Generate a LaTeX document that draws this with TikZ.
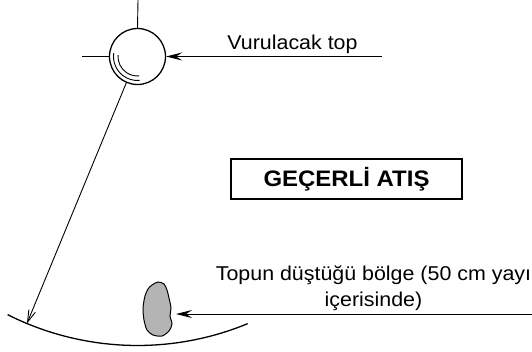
\documentclass[tikz,border=0pt]{standalone}
\usepackage{fontspec}
\usetikzlibrary{arrows.meta}
\newfontfamily\lblfont[FakeStretch=1.07]{Liberation Sans}
\definecolor{zoneGray}{HTML}{B4B4B4}
\tikzset{
  lbl/.style={font=\lblfont\fontsize{20}{26}\selectfont,inner sep=0pt},
  ptr/.style={line width=0.9pt,-{Stealth[length=16pt,width=8pt,inset=6pt]}},
  thinline/.style={line width=0.9pt}
}

\begin{document}
\begin{tikzpicture}[x=1pt,y=-1pt]
  \useasboundingbox (0,0) rectangle (532,351);
  \node[circle,draw,line width=1.3pt,minimum size=56pt,inner sep=0pt] (ball) at (137.5,56.5) {};
  \coordinate (ballTop) at (138,0);
  \coordinate (ballLeft) at (82,56.5);
  \draw[thinline] (ballTop) -- (ball.north);
  \draw[thinline] (ballLeft) -- (ball.west);
  \draw[thinline] ([shift={(172:24pt)}]ball.center) arc (172:275:24pt);
  \draw[thinline] ([shift={(176:19.5pt)}]ball.center) arc (176:275:19.5pt);

  \coordinate (ballTail) at (382,56.5);
  \draw[ptr] (ballTail) -- (ball.east);
  \node[lbl,anchor=base] (ballLbl) at (292.5,49) {Vurulacak top};

  \coordinate (hit) at ([shift={(247.5:289pt)}]ball.center);
  \draw[thinline,-{Straight Barb[length=12pt,width=7pt]}] (ball.247.5) -- (hit);
  \draw[line width=1.3pt] ([shift={(243.3:289pt)}]ball.center) arc (243.3:292.4:289pt);

  \node[draw,line width=1.3pt,minimum width=231pt,minimum height=40pt,
    font=\lblfont\bfseries\fontsize{22.4}{24}\selectfont] (valid) at (346.5,179) {GEÇERLİ ATIŞ};

  \draw[line width=1pt,fill=zoneGray] plot[smooth cycle] coordinates {
    (152,285) (158,282) (164,284) (167,290) (169,298) (171,308) (170,316)
    (172,324) (169,331) (162,336) (153,335) (147,330) (144,320) (143,308)
    (145,296) (148,289)};
  \coordinate (zone) at (176,314);
  \coordinate (zoneTail) at (532,314);
  \draw[ptr] (zoneTail) -- (zone);
  \node[lbl,align=center,anchor=base] (zoneLbl) at (373.5,306) {Topun düştüğü bölge (50 cm yayı\\içerisinde)};
\end{tikzpicture}
\end{document}
